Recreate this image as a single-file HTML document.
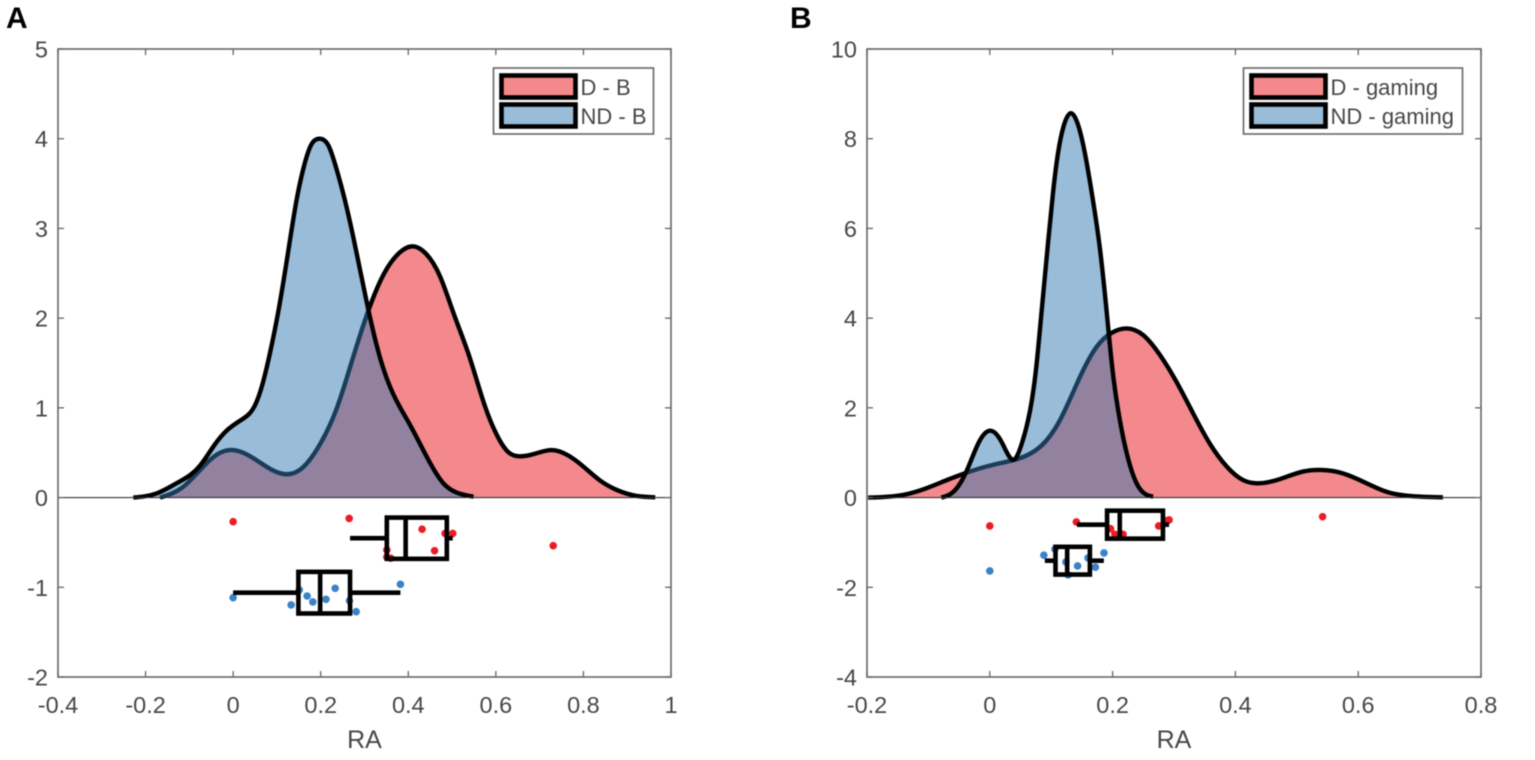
<!DOCTYPE html>
<html lang="en">
<head>
<meta charset="utf-8">
<title>RA density plots</title>
<style>
html,body{margin:0;padding:0;background:#fff;width:1535px;height:760px;overflow:hidden}
svg{display:block;font-family:"Liberation Sans",Arial,sans-serif;filter:blur(0.4px)}
</style>
</head>
<body>
<svg id="figure" xmlns="http://www.w3.org/2000/svg" width="1535" height="760" viewBox="0 0 1535 760"></svg>
<script>
// ---------- Panel A data ----------
const aXTicks = [-0.4, -0.2, 0, 0.2, 0.4, 0.6, 0.8, 1];
const aXTickLabels = ['-0.4', '-0.2', '0', '0.2', '0.4', '0.6', '0.8', '1'];
const aYTicks = [-2, -1, 0, 1, 2, 3, 4, 5];
const aYTickLabels = ['-2', '-1', '0', '1', '2', '3', '4', '5'];
const aLegendLabels = ['D - B', 'ND - B'];

const aRedX = [-0.167, -0.114, -0.075, -0.04, 0, 0.046, 0.092, 0.1226, 0.16, 0.199, 0.237, 0.27, 0.31, 0.345, 0.38, 0.408, 0.44, 0.473, 0.503, 0.541, 0.575, 0.6, 0.63, 0.655, 0.69, 0.728, 0.765, 0.8, 0.838, 0.876, 0.922, 0.964];
const aRedY = [0, 0.12, 0.31, 0.47, 0.53, 0.44, 0.3, 0.26, 0.34, 0.6, 1.0, 1.5, 2.1, 2.5, 2.73, 2.8, 2.72, 2.46, 2.06, 1.55, 1.02, 0.72, 0.5, 0.46, 0.49, 0.53, 0.47, 0.345, 0.19, 0.085, 0.018, 0.003];
const aBlueX = [-0.228, -0.174, -0.129, -0.075, -0.045, -0.014, 0.023, 0.05, 0.069, 0.0845, 0.103, 0.125, 0.145, 0.16, 0.178, 0.197, 0.218, 0.235, 0.255, 0.275, 0.305, 0.336, 0.366, 0.404, 0.442, 0.48, 0.511, 0.549];
const aBlueY = [0, 0.048, 0.16, 0.36, 0.57, 0.75, 0.88, 1.03, 1.3, 1.62, 2.07, 2.72, 3.32, 3.66, 3.93, 4.0, 3.92, 3.68, 3.32, 2.89, 2.18, 1.55, 1.15, 0.81, 0.456, 0.16, 0.055, 0.01];

const aRedDotsX = [0, 0.265, 0.4315, 0.5015, 0.484, 0.46, 0.351, 0.351, 0.36, 0.731];
const aRedDotsY = [-0.269, -0.232, -0.352, -0.4, -0.4, -0.592, -0.584, -0.663, -0.675, -0.536];
const aBlueDotsX = [0, 0.1325, 0.151, 0.169, 0.182, 0.212, 0.233, 0.2656, 0.281, 0.382];
const aBlueDotsY = [-1.116, -1.197, -1.03, -1.097, -1.163, -1.134, -1.011, -1.149, -1.272, -0.967];

const aRedBox = [0.267, 0.351, 0.394, 0.488, 0.5015];   // whisker-low, q1, median, q3, whisker-high
const aRedBoxY = [-0.453, 0.23];                        // centre, half height
const aBlueBox = [0, 0.149, 0.1987, 0.267, 0.382];
const aBlueBoxY = [-1.06, 0.232];

// ---------- Panel B data ----------
const bXTicks = [-0.2, 0, 0.2, 0.4, 0.6, 0.8];
const bXTickLabels = ['-0.2', '0', '0.2', '0.4', '0.6', '0.8'];
const bYTicks = [-4, -2, 0, 2, 4, 6, 8, 10];
const bYTickLabels = ['-4', '-2', '0', '2', '4', '6', '8', '10'];
const bLegendLabels = ['D - gaming', 'ND - gaming'];

const bRedX = [-0.198, -0.141, -0.103, -0.07, -0.038, 0.005, 0.045, 0.081, 0.114, 0.1466, 0.174, 0.197, 0.223, 0.25, 0.277, 0.304, 0.331, 0.358, 0.386, 0.4125, 0.44, 0.472, 0.51, 0.54, 0.575, 0.6135, 0.646, 0.684, 0.738];
const bRedY = [0, 0.06, 0.21, 0.39, 0.555, 0.73, 0.86, 1.12, 1.72, 2.68, 3.36, 3.66, 3.77, 3.62, 3.18, 2.58, 1.88, 1.21, 0.69, 0.39, 0.32, 0.41, 0.58, 0.615, 0.54, 0.32, 0.13, 0.036, 0.005];
const bBlueX = [-0.079, -0.065, -0.049, -0.035, -0.019, 0, 0.02, 0.041, 0.052, 0.065, 0.076, 0.084, 0.095, 0.103, 0.111, 0.12, 0.132, 0.144, 0.155, 0.168, 0.179, 0.191, 0.199, 0.209, 0.223, 0.239, 0.252, 0.266];
const bBlueY = [0, 0.07, 0.3, 0.68, 1.2, 1.49, 1.22, 0.86, 1.2, 1.9, 2.95, 4.1, 5.7, 6.8, 7.67, 8.27, 8.57, 8.3, 7.67, 6.63, 5.59, 4.05, 2.95, 1.95, 0.99, 0.32, 0.09, 0.02];

const bRedDotsX = [0, 0.141, 0.1966, 0.2036, 0.217, 0.275, 0.292, 0.285, 0.542];
const bRedDotsY = [-0.633, -0.544, -0.693, -0.818, -0.818, -0.633, -0.499, -0.515, -0.426];
const bBlueDotsX = [0, 0.088, 0.106, 0.124, 0.143, 0.1276, 0.16, 0.172, 0.186];
const bBlueDotsY = [-1.636, -1.285, -1.15, -1.435, -1.525, -1.725, -1.347, -1.553, -1.235];

const bRedBox = [0.142, 0.191, 0.2117, 0.282, 0.292];
const bRedBoxY = [-0.604, 0.312];
const bBlueBox = [0.0896, 0.107, 0.126, 0.163, 0.1857];
const bBlueBoxY = [-1.407, 0.309];

// ---------- Drawing ----------
const NS = 'http://www.w3.org/2000/svg';
const figure = document.getElementById('figure');
const AXIS_COLOR = '#666666';
const TEXT_COLOR = '#474747';
const RED_FILL = 'rgb(243,137,140)';
const BLUE_FILL = 'rgba(51,121,179,0.5)';

function mk(tag, attrs, parent, text) {
  const node = document.createElementNS(NS, tag);
  for (const key in attrs) node.setAttribute(key, attrs[key]);
  if (text !== undefined) node.textContent = text;
  parent.appendChild(node);
  return node;
}

// Natural cubic spline second derivatives (C2-smooth curve through the data points)
function splineSlopes(xs, ys) {
  const n = xs.length;
  const y2 = new Array(n).fill(0), u = new Array(n).fill(0);
  for (let i = 1; i < n - 1; i++) {
    const sig = (xs[i] - xs[i - 1]) / (xs[i + 1] - xs[i - 1]);
    const p = sig * y2[i - 1] + 2;
    y2[i] = (sig - 1) / p;
    const d = (ys[i + 1] - ys[i]) / (xs[i + 1] - xs[i]) - (ys[i] - ys[i - 1]) / (xs[i] - xs[i - 1]);
    u[i] = (6 * d / (xs[i + 1] - xs[i - 1]) - sig * u[i - 1]) / p;
  }
  for (let k = n - 2; k >= 0; k--) y2[k] = y2[k] * y2[k + 1] + u[k];
  const slope = [];
  for (let i = 0; i < n - 1; i++) {
    const h = xs[i + 1] - xs[i];
    slope.push((ys[i + 1] - ys[i]) / h - h * (2 * y2[i] + y2[i + 1]) / 6);
  }
  const h = xs[n - 1] - xs[n - 2];
  slope.push((ys[n - 1] - ys[n - 2]) / h + h * (y2[n - 2] + 2 * y2[n - 1]) / 6);
  return slope;
}

function curvePath(xs, ys, sx, sy) {
  const n = xs.length;
  const slope = splineSlopes(xs, ys);
  let d = 'M' + sx(xs[0]).toFixed(2) + ' ' + sy(ys[0]).toFixed(2);
  for (let i = 0; i < n - 1; i++) {
    const h = xs[i + 1] - xs[i];
    d += ' C' + sx(xs[i] + h / 3).toFixed(2) + ' ' + sy(ys[i] + slope[i] * h / 3).toFixed(2) +
         ' ' + sx(xs[i + 1] - h / 3).toFixed(2) + ' ' + sy(ys[i + 1] - slope[i + 1] * h / 3).toFixed(2) +
         ' ' + sx(xs[i + 1]).toFixed(2) + ' ' + sy(ys[i + 1]).toFixed(2);
  }
  return d;
}

function drawDensity(parent, key, xs, ys, fill, sx, sy) {
  const line = curvePath(xs, ys, sx, sy);
  const area = line + ' L' + sx(xs[xs.length - 1]).toFixed(2) + ' ' + sy(0).toFixed(2) +
               ' L' + sx(xs[0]).toFixed(2) + ' ' + sy(0).toFixed(2) + ' Z';
  const areaEl = mk('path', {d: area, fill: fill, stroke: 'none'}, parent);
  
  
  const lineEl = mk('path', {d: line, fill: 'none', stroke: '#000', 'stroke-width': 4.4, 'stroke-linejoin': 'round'}, parent);
  
  
}

function drawDots(parent, key, xs, ys, color, sx, sy) {
  xs.forEach(function (v, i) {
    const dot = mk('circle', {cx: sx(v).toFixed(2), cy: sy(ys[i]).toFixed(2), r: 3.8, fill: color}, parent);
    
    
  });
}

function drawBox(parent, key, stats, yStats, sx, sy) {
  const g = mk('g', {stroke: '#000', 'stroke-width': 4.6, fill: 'none'}, parent);
  
  
  const cy = sy(yStats[0]), top = sy(yStats[0] + yStats[1]), bot = sy(yStats[0] - yStats[1]);
  const whiskLo = mk('line', {x1: sx(stats[0]), x2: sx(stats[1]), y1: cy, y2: cy}, g);
  
  
  const whiskHi = mk('line', {x1: sx(stats[3]), x2: sx(stats[4]), y1: cy, y2: cy}, g);
  
  
  const rect = mk('rect', {x: sx(stats[1]), y: top, width: sx(stats[3]) - sx(stats[1]), height: bot - top}, g);
  
  
  const med = mk('line', {x1: sx(stats[2]), x2: sx(stats[2]), y1: top, y2: bot}, g);
  
  
}

function drawPanel(p) {
  const L = p.left, R = p.right, T = 49, B = 677;
  const sx = function (v) { return L + (v - p.xlim[0]) / (p.xlim[1] - p.xlim[0]) * (R - L); };
  const sy = function (v) { return B - (v - p.ylim[0]) / (p.ylim[1] - p.ylim[0]) * (B - T); };

  const panel = mk('g', {}, figure);
  
  

  const plot = mk('g', {}, panel);
  
  

  drawDensity(plot, 'd', p.redX, p.redY, RED_FILL, sx, sy);
  drawDensity(plot, 'nd', p.blueX, p.blueY, BLUE_FILL, sx, sy);

  const base = mk('line', {x1: L, x2: R, y1: sy(0), y2: sy(0), stroke: '#333', 'stroke-width': 1.1}, plot);
  
  

  drawDots(plot, 'd', p.redDotsX, p.redDotsY, '#ec1c24', sx, sy);
  drawDots(plot, 'nd', p.blueDotsX, p.blueDotsY, '#3b83c4', sx, sy);
  drawBox(plot, 'd', p.redBox, p.redBoxY, sx, sy);
  drawBox(plot, 'nd', p.blueBox, p.blueBoxY, sx, sy);

  // Axes frame and ticks
  const frame = mk('rect', {x: L, y: T, width: R - L, height: B - T, fill: 'none', stroke: AXIS_COLOR, 'stroke-width': 1.6}, panel);
  
  

  const xAxis = mk('g', {}, panel);
  
  
  p.xTicks.forEach(function (v, i) {
    const tickB = mk('line', {x1: sx(v), x2: sx(v), y1: B, y2: B - 6, stroke: AXIS_COLOR, 'stroke-width': 1.3}, xAxis);
    
    
    const tickT = mk('line', {x1: sx(v), x2: sx(v), y1: T, y2: T + 6, stroke: AXIS_COLOR, 'stroke-width': 1.3}, xAxis);
    
    
    const label = mk('text', {x: sx(v), y: 713, 'text-anchor': 'middle', 'font-size': 23.5, fill: TEXT_COLOR}, xAxis, p.xTickLabels[i]);
    
    
  });
  const xTitle = mk('text', {x: (L + R) / 2, y: 748, 'text-anchor': 'middle', 'font-size': 25, fill: TEXT_COLOR}, xAxis, 'RA');
  
  

  const yAxis = mk('g', {}, panel);
  
  
  p.yTicks.forEach(function (v, i) {
    const tickL = mk('line', {x1: L, x2: L + 6, y1: sy(v), y2: sy(v), stroke: AXIS_COLOR, 'stroke-width': 1.3}, yAxis);
    
    
    const tickR = mk('line', {x1: R, x2: R - 6, y1: sy(v), y2: sy(v), stroke: AXIS_COLOR, 'stroke-width': 1.3}, yAxis);
    
    
    const label = mk('text', {x: L - 10, y: sy(v) + 8.5, 'text-anchor': 'end', 'font-size': 23.5, fill: TEXT_COLOR}, yAxis, p.yTickLabels[i]);
    
    
  });

  // Legend
  const legend = mk('g', {}, panel);
  
  
  const legendBox = mk('rect', {x: p.legendX, y: 68, width: p.legendW, height: 66, fill: '#fff', stroke: AXIS_COLOR, 'stroke-width': 1.6}, legend);
  
  
  const swatchFills = ['#f4898c', '#99bcd9'];
  p.legendLabels.forEach(function (txt, i) {
    const sy0 = 75.5 + i * 29;
    const swatch = mk('rect', {x: p.legendX + 8, y: sy0, width: 74, height: 22, fill: swatchFills[i], stroke: '#000', 'stroke-width': 4.6}, legend);
    
    
    const label = mk('text', {x: p.legendX + 87, y: sy0 + 19.5, 'font-size': 22, fill: TEXT_COLOR}, legend, txt);
    
    
  });

  // Panel letter
  const letter = mk('text', {x: p.letterX, y: 28, 'font-size': 30, 'font-weight': 'bold', fill: '#000'}, panel, p.letter);
  
  
}

drawPanel({
  id: 'a', letter: 'A', letterX: 6, left: 58, right: 671, xlim: [-0.4, 1], ylim: [-2, 5],
  xTicks: aXTicks, xTickLabels: aXTickLabels, yTicks: aYTicks, yTickLabels: aYTickLabels,
  legendLabels: aLegendLabels, legendX: 493.5, legendW: 160,
  redX: aRedX, redY: aRedY, blueX: aBlueX, blueY: aBlueY,
  redDotsX: aRedDotsX, redDotsY: aRedDotsY, blueDotsX: aBlueDotsX, blueDotsY: aBlueDotsY,
  redBox: aRedBox, redBoxY: aRedBoxY, blueBox: aBlueBox, blueBoxY: aBlueBoxY
});
drawPanel({
  id: 'b', letter: 'B', letterX: 790, left: 867, right: 1481, xlim: [-0.2, 0.8], ylim: [-4, 10],
  xTicks: bXTicks, xTickLabels: bXTickLabels, yTicks: bYTicks, yTickLabels: bYTickLabels,
  legendLabels: bLegendLabels, legendX: 1243.5, legendW: 219,
  redX: bRedX, redY: bRedY, blueX: bBlueX, blueY: bBlueY,
  redDotsX: bRedDotsX, redDotsY: bRedDotsY, blueDotsX: bBlueDotsX, blueDotsY: bBlueDotsY,
  redBox: bRedBox, redBoxY: bRedBoxY, blueBox: bBlueBox, blueBoxY: bBlueBoxY
});
</script>
</body>
</html>
